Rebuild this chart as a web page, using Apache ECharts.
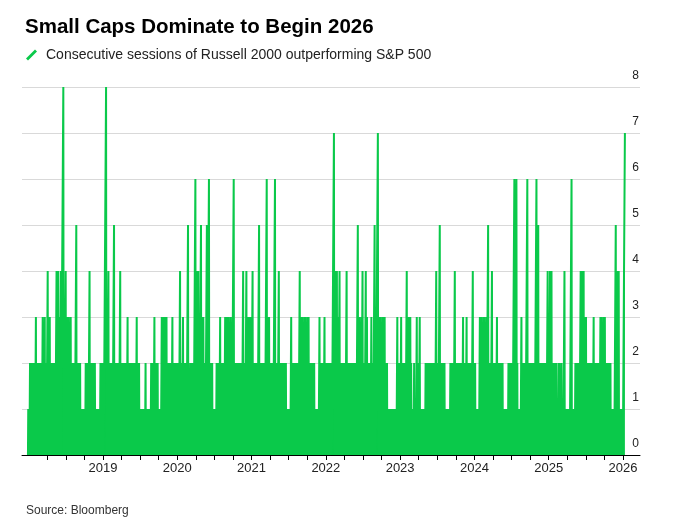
<!DOCTYPE html>
<html><head><meta charset="utf-8">
<script src="https://cdn.jsdelivr.net/npm/echarts@6/dist/echarts.min.js"></script>
<style>html,body{margin:0;padding:0;background:#fff}#c{width:680px;height:526px}</style>
</head><body><div id="c"></div>
<script>
// Daily values: consecutive sessions of Russell 2000 outperforming S&P 500 (one digit per trading day)
const y2017 = "010"; // last sessions of Dec 2017
const y2018 = ["0101201201012","01012010","012301","20120101201201012","01230120123","010120","123401201","23012010","12010120101","20123401234012301234012","34567801201","234010","12301230120123012","01201012010","12345012","010120101201","0101001010101001","20120101201","234010","120101201201012010","10100101010010","1201201012"].join("");
const y2019 = ["010","1234567801","201234010","1201201012","0123450","1201012012010120","1234010","1201201012010120120","123012","0120101201201012012010120","123010","120120101","0010101001010100","12010","10101001010010","12010","120101","230120","12010120","1010010100","12301230123012301230","1201201012010120","123010","1201201012010"].join("");
const y2020 = ["0120101","234012","01201","23012","012010120","1234501","200010120","12010120","123456","01234012340120","12345012","301230120120","1234501234560","1201012012010","1001010100","120101201201","230120","12010120101","230123012301230120123","012012345601","20120101201201012012010120","1234012","0120","123401","230123012301230"].join("");
const y2021 = ["12340","120101201201012","01234501","20120101201201012","0123456","0123012301","201201012010","12345601","20101201","234012","010120120101201201012010","100101010010","123012","010120120101201201012","0123401","23012301201230123012012301230120","12010120120101201","01010000101001","2301201","201012010","1230120"].join("");
const y2022 = ["1201201012010120120101","2345670","1234012340123012340120","120101201201012","01234","01201012012010120120101201201012","012345","01230120123","01234","012012","01234","012301","201201012","01230","1201","0123450","1201","2345670","123012301201230123012301","2010120","1010010101001010100101001010010","12301","2010120"].join("");
const y2023 = ["0123012012010120120","123401","230123012301201","01001012010100","123012","01201","230100","10101001010010","1201201012010120120101201201012010","123401","201201","234501","201201012010120","101001010100101001","2012010120101","234010","12012010120120101201201","2301201","20101","230120","1201201012010","123401201"].join("");
const y2024 = ["012010","100101010","01230123012012301230120123","012345","012010120","123401","2012010120101","23012","01201012012010120","10100101010010100","120120101201201","012345601234560120","1010010100","123010","1201201012","01234560","120120101201201012012010","12345601","23450120","12012010120120101201201","01234012"].join("");
const y2025 = ["012340123401","201201012010120","100101","201201","010120101001","23401","00101001010100101","234560","10100101001","2012010120120101","234012340123401","23012301201","201201012010120120","1230120","12010120120101201","230123012012301230","1201201012010120120101","001010010","1234501","23401234","01010010100100"].join("");
const y2026 = "1234567"; // first sessions of January 2026

const fullYears = [[2018, y2018], [2019, y2019], [2020, y2020], [2021, y2021], [2022, y2022], [2023, y2023], [2024, y2024], [2025, y2025]];
const yearLabels = [2019, 2020, 2021, 2022, 2023, 2024, 2025, 2026];
const quarterTicks = [];
for (let y = 2018; y <= 2026; y++) for (const q of [0, 0.25, 0.5, 0.75]) { const v = y + q; if (v > 2018 && v <= 2026) quarterTicks.push(v); }

const points = [];
for (let i = 0; i < y2017.length; i++) points.push([2017 + (249 + i + 0.5) / 252, +y2017[i]]);
for (const [yr, s] of fullYears) for (let i = 0; i < s.length; i++) points.push([yr + (i + 0.5) / s.length, +s[i]]);
for (let i = 0; i < y2026.length; i++) points.push([2026 + (i + 0.5) / 252, +y2026[i]]);

const G = '#0ac94a';
const FONT = '"Liberation Sans", Arial, sans-serif';
const chart = echarts.init(document.getElementById('c'), null, {renderer: 'canvas'});
chart.setOption({
  animation: false,
  backgroundColor: '#fff',
  title: [
    {text: 'Small Caps Dominate to Begin 2026', left: 20, top: 12,
     textStyle: {fontFamily: FONT, fontSize: 20.5, fontWeight: 'bold', color: '#000'}},
    {text: 'Source: Bloomberg', left: 21, top: 500,
     textStyle: {fontFamily: FONT, fontSize: 12, fontWeight: 'normal', color: '#333'}}
  ],
  legend: {
    left: 21, top: 43, itemWidth: 11, itemHeight: 11,
    data: [{name: 'Consecutive sessions of Russell 2000 outperforming S&P 500', icon: 'path://M0,9L9,0L11,2L2,11Z'}],
    textStyle: {fontFamily: FONT, fontSize: 14, color: '#222', padding: [0, 0, 0, 4]}
  },
  grid: {left: 22, right: 40, top: 87, bottom: 71},
  xAxis: {
    type: 'value', min: 2017.91, max: 2026.229,
    axisLine: {lineStyle: {color: '#000', width: 1}},
    axisTick: {customValues: quarterTicks, length: 5, lineStyle: {color: '#000'}},
    axisLabel: {customValues: yearLabels, formatter: v => String(Math.round(v)), fontFamily: FONT, fontSize: 13, color: '#222', margin: 7},
    splitLine: {show: false}
  },
  yAxis: {
    type: 'value', position: 'right', min: 0, max: 8, interval: 1,
    axisLine: {show: false}, axisTick: {show: false},
    splitLine: {lineStyle: {color: '#d9d9d9', width: 1}},
    axisLabel: {inside: true, margin: 1, verticalAlign: 'bottom', padding: [0, 0, 5, 0], fontFamily: FONT, fontSize: 12, color: '#222'}
  },
  series: [{
    name: 'Consecutive sessions of Russell 2000 outperforming S&P 500',
    type: 'line', data: points, showSymbol: false, symbol: 'none', sampling: false,
    lineStyle: {width: 2, color: G}, itemStyle: {color: G},
    areaStyle: {color: G, opacity: 1}
  }]
});
</script>
</body></html>
